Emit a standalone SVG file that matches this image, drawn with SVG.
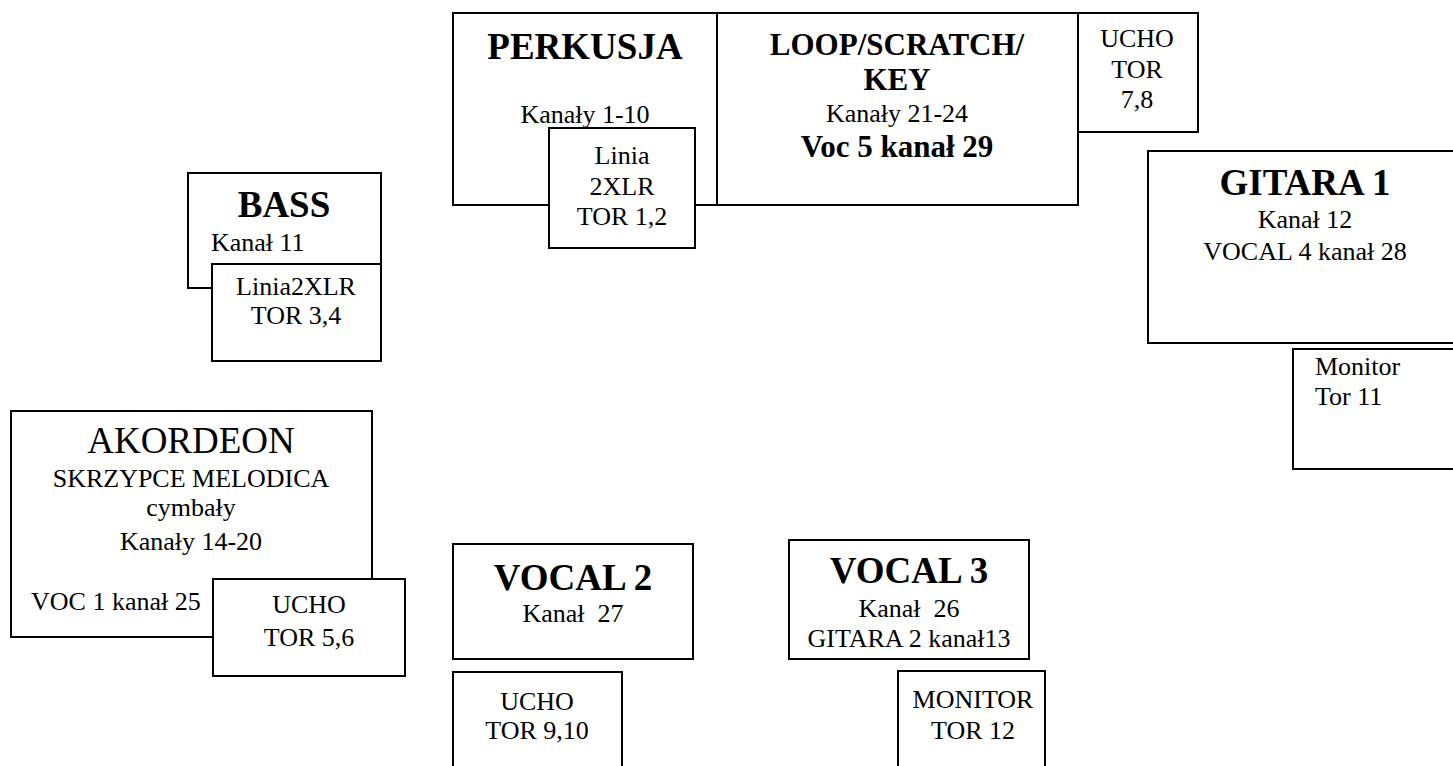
<svg xmlns="http://www.w3.org/2000/svg" width="1453" height="766" viewBox="0 0 1453 766">
<style>
.box{fill:#fff;stroke:#000;stroke-width:2}
text{font-family:"Liberation Serif","Times New Roman",serif;fill:#000}
.r{font-size:26px}
.c{text-anchor:middle}
.h{font-size:37px;font-weight:bold}
.m{font-size:31px;font-weight:bold}
.a{font-size:37px}
</style>
<rect width="1453" height="766" fill="#fff"/>
<g id="perkusja">
<rect class="box" x="453" y="13" width="264" height="192"/>
<text class="h c" x="585" y="59">PERKUSJA</text>
<text class="r c" x="585" y="123">Kanały 1-10</text>
</g>
<g id="loop">
<rect class="box" x="717" y="13" width="361" height="192"/>
<text class="m c" x="897" y="55">LOOP/SCRATCH/</text>
<text class="m c" x="897" y="90">KEY</text>
<text class="r c" x="897" y="122">Kanały 21-24</text>
<text class="m c" x="897" y="157">Voc 5 kanał 29</text>
</g>
<g id="ucho78">
<rect class="box" x="1078" y="13" width="120" height="119"/>
<text class="r c" x="1137" y="47">UCHO</text>
<text class="r c" x="1137" y="78">TOR</text>
<text class="r c" x="1137" y="108">7,8</text>
</g>
<g id="linia12">
<rect class="box" x="549" y="128" width="146" height="120"/>
<text class="r c" x="622" y="164">Linia</text>
<text class="r c" x="622" y="195">2XLR</text>
<text class="r c" x="622" y="225">TOR 1,2</text>
</g>
<g id="bass">
<rect class="box" x="188" y="173" width="193" height="115"/>
<text class="h c" x="284" y="217">BASS</text>
<text class="r" x="211" y="251">Kanał 11</text>
</g>
<g id="linia34">
<rect class="box" x="212" y="264" width="169" height="97"/>
<text class="r c" x="296" y="295">Linia2XLR</text>
<text class="r c" x="296" y="324">TOR 3,4</text>
</g>
<g id="gitara1">
<rect class="box" x="1148" y="151" width="314" height="192"/>
<text class="h c" x="1305" y="195">GITARA 1</text>
<text class="r c" x="1305" y="228">Kanał 12</text>
<text class="r c" x="1305" y="260">VOCAL 4 kanał 28</text>
</g>
<g id="monitor11">
<rect class="box" x="1293" y="349" width="169" height="120"/>
<text class="r" x="1315" y="375">Monitor</text>
<text class="r" x="1315" y="405">Tor 11</text>
</g>
<g id="akordeon">
<rect class="box" x="11" y="411" width="361" height="226"/>
<text class="a c" x="191" y="453">AKORDEON</text>
<text class="r c" x="191" y="487">SKRZYPCE MELODICA</text>
<text class="r c" x="191" y="516">cymbały</text>
<text class="r c" x="191" y="550">Kanały 14-20</text>
<text class="r" x="31" y="610">VOC 1 kanał 25</text>
</g>
<g id="ucho56">
<rect class="box" x="213" y="579" width="192" height="97"/>
<text class="r c" x="309" y="613">UCHO</text>
<text class="r c" x="309" y="646">TOR 5,6</text>
</g>
<g id="vocal2">
<rect class="box" x="453" y="544" width="240" height="115"/>
<text class="h c" x="573" y="590">VOCAL 2</text>
<text class="r c" x="573" y="622" xml:space="preserve">Kanał  27</text>
</g>
<g id="ucho910">
<rect class="box" x="453" y="672" width="169" height="100"/>
<text class="r c" x="537" y="710">UCHO</text>
<text class="r c" x="537" y="739">TOR 9,10</text>
</g>
<g id="vocal3">
<rect class="box" x="789" y="540" width="240" height="119"/>
<text class="h c" x="909" y="583">VOCAL 3</text>
<text class="r c" x="909" y="617" xml:space="preserve">Kanał  26</text>
<text class="r c" x="909" y="647">GITARA 2 kanał13</text>
</g>
<g id="monitor12">
<rect class="box" x="898" y="671" width="147" height="100"/>
<text class="r c" x="973" y="708">MONITOR</text>
<text class="r c" x="973" y="739">TOR 12</text>
</g>
<g id="connectors"></g>
</svg>
